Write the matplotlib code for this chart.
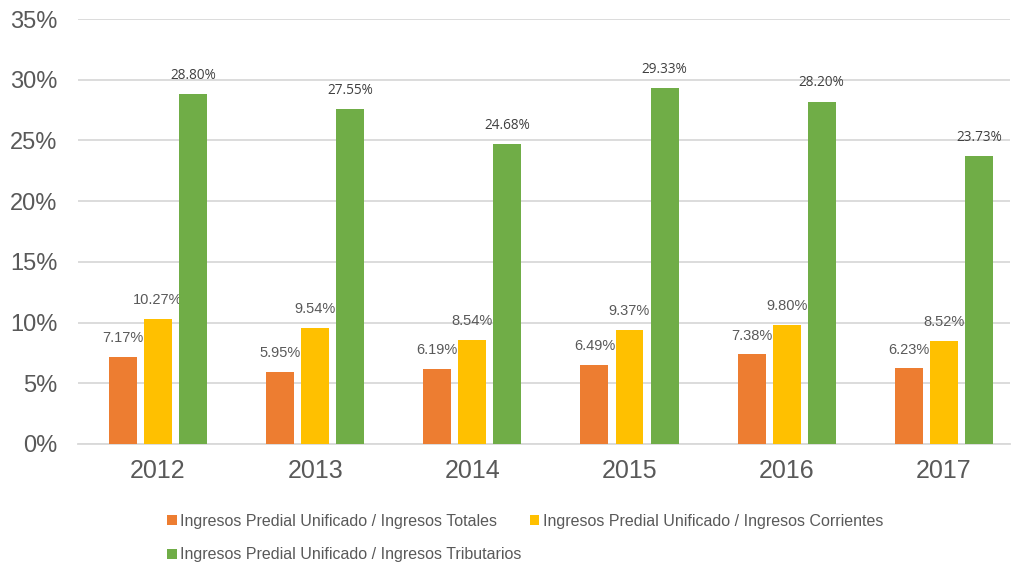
import matplotlib
matplotlib.use("Agg")
import matplotlib.pyplot as plt
import numpy as np

years = ["2012", "2013", "2014", "2015", "2016", "2017"]
totales = [7.17, 5.95, 6.19, 6.49, 7.38, 6.23]
corrientes = [10.27, 9.54, 8.54, 9.37, 9.80, 8.52]
tributarios = [28.80, 27.55, 24.68, 29.33, 28.20, 23.73]
series_names = ["Ingresos Predial Unificado / Ingresos Totales",
                "Ingresos Predial Unificado / Ingresos Corrientes",
                "Ingresos Predial Unificado / Ingresos Tributarios"]
colors = ["#ED7D31", "#FFC000", "#70AD47"]
yticks = [0, 5, 10, 15, 20, 25, 30, 35]

plt.rcParams['font.family'] = ['Liberation Sans', 'DejaVu Sans']
txt = "#595959"

fig = plt.figure(figsize=(10.18, 5.64), dpi=100)
ax = fig.add_axes([0.0766, 0.2128, 0.9154, 0.7535])

x = np.arange(len(years))
w = 0.178
off = 0.223
bars = []
for i, (vals, c, name) in enumerate(zip([totales, corrientes, tributarios], colors, series_names)):
    b = ax.bar(x + (i - 1) * off, vals, w, color=c, label=name, zorder=3)
    bars.append(b)
    for xi, v in zip(x, vals):
        if i < 2:
            ax.annotate(f"{v:.2f}%", (xi + (i - 1) * off, v), xytext=(0, 8.5),
                        textcoords="offset points", ha="center", va="bottom",
                        fontsize=10.5, color=txt)
        else:
            ax.annotate(f"{v:.2f}%", (xi + (i - 1) * off, v), xytext=(0, 8),
                        textcoords="offset points", ha="center", va="bottom",
                        fontsize=9.8, color="#404040", family=['Open Sans', 'DejaVu Sans'])

ax.set_xlim(-0.509, 5.42)
ax.set_ylim(0, 35)
ax.set_yticks(yticks)
ax.set_yticklabels([f"{t}%" for t in yticks])
ax.set_xticks(x)
ax.set_xticklabels(years)
ax.tick_params(axis='both', length=0, colors=txt)
ax.tick_params(axis='y', pad=15, labelsize=17)
ax.tick_params(axis='x', pad=11, labelsize=18)
ax.grid(axis='y', color="#D9D9D9", linewidth=1.3, zorder=0)
for s in ["top", "right", "left"]:
    ax.spines[s].set_visible(False)
ax.spines["bottom"].set_color("#D9D9D9")
ax.spines["bottom"].set_linewidth(1.3)

handles = [bars[0], bars[2], bars[1]]
labels = [series_names[0], series_names[2], series_names[1]]
fig.legend(handles, labels, ncol=2, loc="upper left", bbox_to_anchor=(0.158, 0.1),
           frameon=False, fontsize=11.5, labelcolor=txt, handlelength=0.6, handleheight=0.6,
           handletextpad=0.2, columnspacing=0.53, labelspacing=1.15, borderaxespad=0)

fig.savefig("out.png", dpi=100)
